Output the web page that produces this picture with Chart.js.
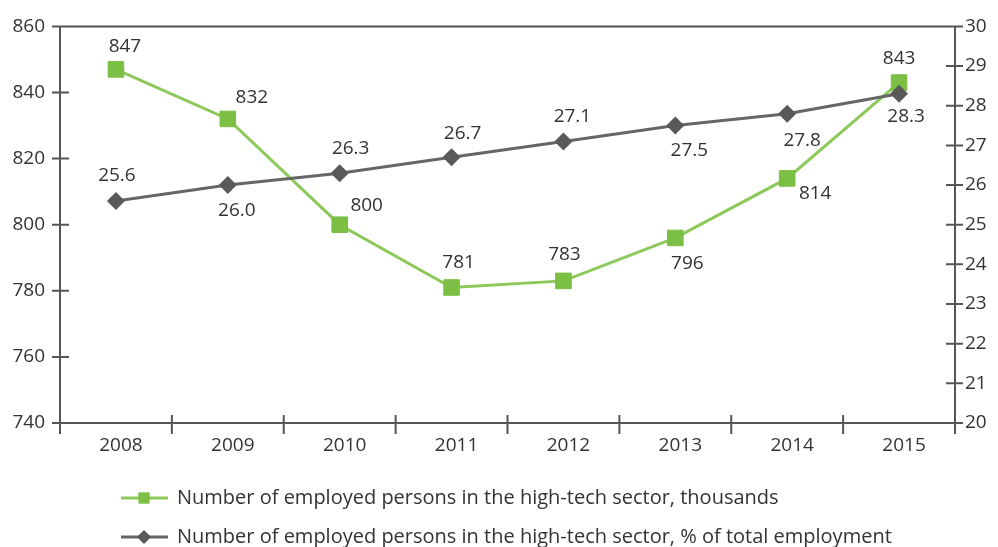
<!DOCTYPE html>
<html>
<head>
<meta charset="utf-8">
<script src="https://cdn.jsdelivr.net/npm/chart.js@4.4.1/dist/chart.umd.min.js"></script>
<style>
  html, body { margin: 0; background: #fff; }
  #wrap { width: 998px; height: 547px; position: relative; }
</style>
</head>
<body>
<div id="wrap"><canvas id="myChart"></canvas></div>
<script>
const years = ['2008', '2009', '2010', '2011', '2012', '2013', '2014', '2015'];
const employedThousands = [847, 832, 800, 781, 783, 796, 814, 843];
const employedShare = [25.6, 26.0, 26.3, 26.7, 27.1, 27.5, 27.8, 28.3];
const seriesNames = [
    'Number of employed persons in the high-tech sector, thousands',
    'Number of employed persons in the high-tech sector, % of total employment'
];

const FONT = '"Open Sans", "Noto Sans", sans-serif';
const AXIS_COLOR = '#555555';
const TEXT_COLOR = '#333333';

// axis lines and ticks that cross the axis, like the print original
const crossAxes = {
    id: 'crossAxes',
    beforeDatasetsDraw(chart) {
        const { ctx, chartArea: { left, right, top, bottom } } = chart;
        const y = chart.scales.y, y1 = chart.scales.y1;
        ctx.save();
        ctx.strokeStyle = AXIS_COLOR;
        ctx.lineWidth = 2;
        ctx.beginPath();
        ctx.moveTo(left, top); ctx.lineTo(left, bottom + 11);
        ctx.moveTo(right, top); ctx.lineTo(right, bottom + 11);
        ctx.moveTo(left - 8, top); ctx.lineTo(right + 8, top);
        ctx.moveTo(left - 8, bottom); ctx.lineTo(right + 8, bottom);
        y.ticks.forEach(t => {
            const py = y.getPixelForValue(t.value);
            ctx.moveTo(left - 8, py); ctx.lineTo(left + 9, py);
        });
        y1.ticks.forEach(t => {
            const py = y1.getPixelForValue(t.value);
            ctx.moveTo(right - 9, py); ctx.lineTo(right + 8, py);
        });
        const step = (right - left) / years.length;
        for (let i = 1; i < years.length; i++) {
            const px = left + i * step;
            ctx.moveTo(px, bottom - 8); ctx.lineTo(px, bottom + 11);
        }
        ctx.stroke();
        ctx.restore();
    }
};

// value labels next to each point
const pointLabels = {
    id: 'pointLabels',
    afterDatasetsDraw(chart) {
        const ctx = chart.ctx;
        ctx.save();
        ctx.font = '19px ' + FONT;
        ctx.fillStyle = TEXT_COLOR;
        ctx.textAlign = 'center';
        ctx.textBaseline = 'middle';
        chart.data.datasets.forEach((ds, di) => {
            const meta = chart.getDatasetMeta(di);
            meta.data.forEach((pt, i) => {
                const [dx, dy] = ds.labelOffsets[i];
                ctx.fillText(ds.data[i].toFixed(ds.labelDigits), pt.x + dx, pt.y + dy);
            });
        });
        ctx.restore();
    }
};

// two-row legend under the axis
const bottomLegend = {
    id: 'bottomLegend',
    afterDraw(chart) {
        const ctx = chart.ctx;
        const rows = [
            { y: 498, ds: chart.data.datasets[0], name: seriesNames[0] },
            { y: 537, ds: chart.data.datasets[1], name: seriesNames[1] }
        ];
        ctx.save();
        rows.forEach(r => {
            ctx.strokeStyle = r.ds.borderColor;
            ctx.lineWidth = 3;
            ctx.beginPath();
            ctx.moveTo(121, r.y); ctx.lineTo(168, r.y);
            ctx.stroke();
            ctx.fillStyle = r.ds.pointBackgroundColor;
            ctx.strokeStyle = r.ds.pointBackgroundColor;
            Chart.helpers.drawPoint(ctx, {
                pointStyle: r.ds.pointStyle,
                radius: r.ds.legendRadius,
                borderWidth: 0,
                rotation: 0
            }, 144, r.y);
            ctx.fillStyle = TEXT_COLOR;
            ctx.font = '20px ' + FONT;
            ctx.textBaseline = 'middle';
            ctx.textAlign = 'left';
            ctx.fillText(r.name, 177, r.y);
        });
        ctx.restore();
    }
};

const data = {
    labels: years,
    datasets: [{
        label: seriesNames[0],
        data: employedThousands,
        yAxisID: 'y',
        borderColor: '#8dc95a',
        borderWidth: 3,
        pointStyle: 'rect',
        pointRadius: 11,
        pointBorderWidth: 1,
        pointBackgroundColor: '#7bbf44',
        pointBorderColor: '#7bbf44',
        legendRadius: 8,
        labelDigits: 0,
        labelOffsets: [[9, -23], [24, -21], [27, -19], [7, -25], [1, -26], [12, 26], [28, 15], [0, -24]],
        order: 1
    }, {
        label: seriesNames[1],
        data: employedShare,
        yAxisID: 'y1',
        borderColor: '#666666',
        borderWidth: 3,
        pointStyle: 'rectRot',
        pointRadius: 9,
        pointBorderWidth: 0,
        pointBackgroundColor: '#595959',
        pointBorderColor: '#595959',
        legendRadius: 7,
        labelDigits: 1,
        labelOffsets: [[1, -25], [9, 26], [11, -25], [11, -24], [9, -25], [14, 25], [15, 27], [7, 23]],
        order: 0
    }]
};

const config = {
    type: 'line',
    data: data,
    options: {
        responsive: true,
        maintainAspectRatio: false,
        animation: false,
        layout: { padding: { top: 24, left: 0, right: 0, bottom: 0 } },
        plugins: { legend: { display: false }, tooltip: { enabled: false } },
        scales: {
            x: {
                offset: true,
                grid: { display: false, drawTicks: false, offset: true },
                border: { display: false },
                ticks: { color: TEXT_COLOR, font: { family: FONT, size: 19 }, padding: 11, labelOffset: 5 },
                afterFit: s => { s.height = 124; }
            },
            y: {
                position: 'left',
                min: 740, max: 860,
                grid: { display: false, drawTicks: false },
                border: { display: false },
                ticks: { stepSize: 20, color: TEXT_COLOR, font: { family: FONT, size: 19 }, padding: 15 },
                afterFit: s => { s.width = 60; }
            },
            y1: {
                position: 'right',
                min: 20, max: 30,
                grid: { display: false, drawTicks: false },
                border: { display: false },
                ticks: { stepSize: 1, color: TEXT_COLOR, font: { family: FONT, size: 19 }, padding: 10 },
                afterFit: s => { s.width = 43; }
            }
        }
    },
    plugins: [crossAxes, pointLabels, bottomLegend]
};

const myChart = new Chart(document.getElementById('myChart'), config);
</script>
</body>
</html>
